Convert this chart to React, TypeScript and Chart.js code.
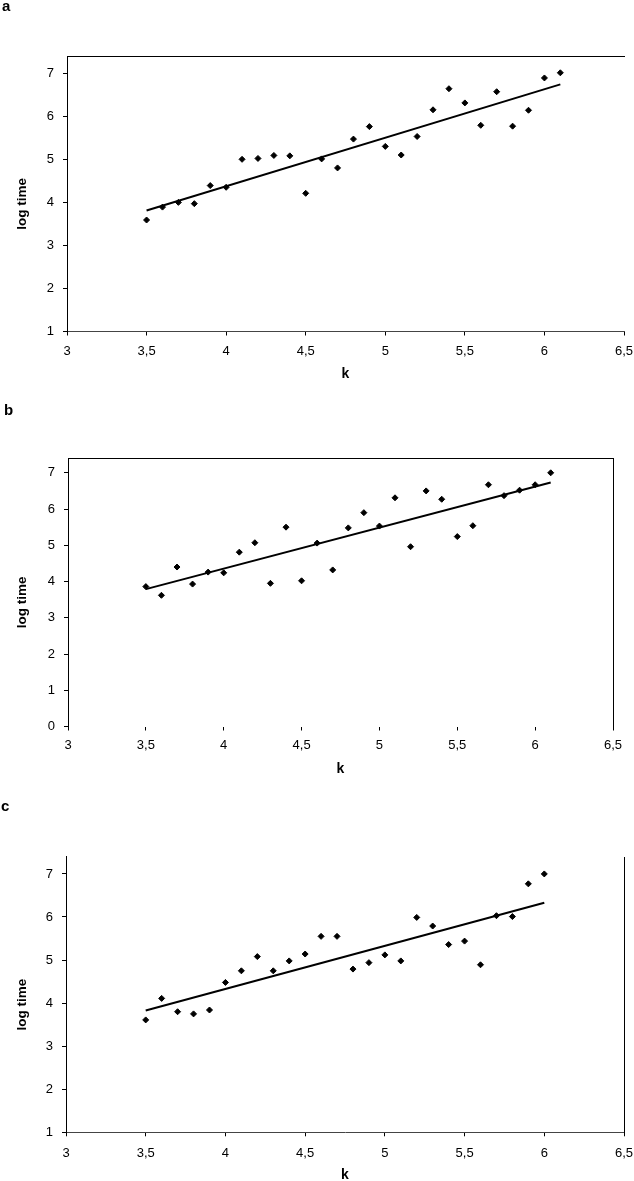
import React, { useEffect, useRef } from "react";
import { Chart, registerables } from "chart.js";

Chart.register(...registerables);

// ---------- data ----------
const kA = [3.5, 3.6, 3.7, 3.8, 3.9, 4.0, 4.1, 4.2, 4.3, 4.4, 4.5, 4.6, 4.7, 4.8, 4.9, 5.0, 5.1, 5.2, 5.3, 5.4, 5.5, 5.6, 5.7, 5.8, 5.9, 6.0, 6.1];
const logTimeA = [3.59, 3.89, 4.0, 3.97, 4.39, 4.35, 5.0, 5.02, 5.09, 5.08, 4.21, 5.01, 4.8, 5.47, 5.76, 5.3, 5.1, 5.53, 6.15, 6.64, 6.31, 5.79, 6.57, 5.77, 6.14, 6.89, 7.01];
const trendKA = [3.5, 6.1];
const trendTimeA = [3.81, 6.74];

const kB = [3.5, 3.6, 3.7, 3.8, 3.9, 4.0, 4.1, 4.2, 4.3, 4.4, 4.5, 4.6, 4.7, 4.8, 4.9, 5.0, 5.1, 5.2, 5.3, 5.4, 5.5, 5.6, 5.7, 5.8, 5.9, 6.0, 6.1];
const logTimeB = [3.86, 3.62, 4.4, 3.93, 4.26, 4.24, 4.81, 5.07, 3.95, 5.5, 4.02, 5.06, 4.32, 5.48, 5.9, 5.53, 6.31, 4.96, 6.5, 6.27, 5.24, 5.54, 6.67, 6.37, 6.52, 6.67, 7.0];
const trendKB = [3.5, 6.1];
const trendTimeB = [3.79, 6.73];

const kC = [3.5, 3.6, 3.7, 3.8, 3.9, 4.0, 4.1, 4.2, 4.3, 4.4, 4.5, 4.6, 4.7, 4.8, 4.9, 5.0, 5.1, 5.2, 5.3, 5.4, 5.5, 5.6, 5.7, 5.8, 5.9, 6.0];
const logTimeC = [3.61, 4.11, 3.8, 3.75, 3.84, 4.48, 4.75, 5.08, 4.75, 4.98, 5.14, 5.55, 5.55, 4.79, 4.94, 5.12, 4.98, 5.99, 5.79, 5.36, 5.44, 4.89, 6.03, 6.01, 6.77, 7.0];
const trendKC = [3.5, 6.0];
const trendTimeC = [3.83, 6.33];

const xTickValues = [3, 3.5, 4, 4.5, 5, 5.5, 6, 6.5];
const yTicksAC = [1, 2, 3, 4, 5, 6, 7];
const yTicksB = [0, 1, 2, 3, 4, 5, 6, 7];

const panelLetters = ["a", "b", "c"];
const xTitle = "k";
const yTitle = "log time";

// ---------- layout / style ----------
const FONT = '"Liberation Sans", Arial, Helvetica, sans-serif';
const CANVAS_W = 680;

type Panel = {
  letter: string;
  top: number;
  height: number;
  area: { left: number; top: number; right: number; bottom: number };
  yMin: number;
  yMax: number;
  yTicks: number[];
  k: number[];
  t: number[];
  tk: number[];
  tt: number[];
  frameTop: boolean;
  frameRight: boolean;
  xLine: boolean;
  xPad: number;
  letterX: number;
  letterY: number;
};

const panels: Panel[] = [
  {
    letter: panelLetters[0], top: 0, height: 400,
    area: { left: 67, top: 56, right: 624, bottom: 331.5 },
    yMin: 1, yMax: 7.4, yTicks: yTicksAC,
    k: kA, t: logTimeA, tk: trendKA, tt: trendTimeA,
    frameTop: true, frameRight: false, xLine: true, xPad: 8,
    letterX: 2, letterY: 11,
  },
  {
    letter: panelLetters[1], top: 390, height: 400,
    area: { left: 68, top: 68.3, right: 613, bottom: 336.5 },
    yMin: 0, yMax: 7.4, yTicks: yTicksB,
    k: kB, t: logTimeB, tk: trendKB, tt: trendTimeB,
    frameTop: true, frameRight: true, xLine: false, xPad: 7,
    letterX: 4, letterY: 25,
  },
  {
    letter: panelLetters[2], top: 790, height: 391,
    area: { left: 66, top: 66.7, right: 624, bottom: 342.3 },
    yMin: 1, yMax: 7.4, yTicks: yTicksAC,
    k: kC, t: logTimeC, tk: trendKC, tt: trendTimeC,
    frameTop: false, frameRight: true, xLine: true, xPad: 9,
    letterX: 1, letterY: 21,
  },
];

const framePlugin = {
  id: "frame",
  afterDraw(chart: any, _args: any, opts: any) {
    const { ctx, chartArea: a } = chart;
    ctx.save();
    ctx.strokeStyle = "#000";
    ctx.lineWidth = 1;
    if (opts.top) {
      const y = Math.round(a.top) + 0.5;
      ctx.beginPath();
      ctx.moveTo(Math.round(a.left), y);
      ctx.lineTo(Math.round(a.right) + 1, y);
      ctx.stroke();
    }
    if (opts.right) {
      const x = Math.round(a.right) + 0.5;
      ctx.beginPath();
      ctx.moveTo(x, Math.round(a.top));
      ctx.lineTo(x, Math.round(a.bottom) + 1);
      ctx.stroke();
    }
    ctx.fillStyle = "#000";
    // y title
    ctx.font = `bold 13.5px ${FONT}`;
    ctx.textAlign = "center";
    ctx.textBaseline = "middle";
    ctx.save();
    ctx.translate(22.5, (a.top + a.bottom) / 2 + 10);
    ctx.rotate(-Math.PI / 2);
    ctx.fillText(opts.yTitle, 0, 0);
    ctx.restore();
    // x title
    ctx.font = `bold 14px ${FONT}`;
    ctx.fillText(opts.xTitle, (a.left + a.right) / 2, a.bottom + 43);
    // panel letter
    ctx.font = `bold 15px ${FONT}`;
    ctx.textAlign = "left";
    ctx.textBaseline = "alphabetic";
    ctx.fillText(opts.letter, opts.letterX, opts.letterY);
    ctx.restore();
  },
};

function makeChart(canvas: HTMLCanvasElement, p: Panel) {
  const X_H = 40;
  const points = p.k.map((k, i) => ({ x: k, y: p.t[i] }));
  const trend = p.tk.map((k, i) => ({ x: k, y: p.tt[i] }));
  return new Chart(canvas, {
    type: "scatter",
    data: {
      datasets: [
        {
          data: points,
          pointStyle: "rectRot",
          pointRadius: 3,
          pointBackgroundColor: "#000",
          pointBorderColor: "#000",
          pointBorderWidth: 1,
          showLine: false,
        },
        {
          data: trend,
          showLine: true,
          borderColor: "#000",
          borderWidth: 2,
          pointRadius: 0,
          fill: false,
        },
      ],
    },
    plugins: [framePlugin],
    options: {
      responsive: false,
      animation: false,
      devicePixelRatio: 1,
      events: [],
      layout: {
        padding: {
          left: 0,
          top: p.area.top,
          right: CANVAS_W - p.area.right,
          bottom: p.height - p.area.bottom - X_H,
        },
      },
      plugins: {
        legend: { display: false },
        tooltip: { enabled: false },
        frame: {
          top: p.frameTop,
          right: p.frameRight,
          letter: p.letter,
          letterX: p.letterX,
          letterY: p.letterY,
          xTitle,
          yTitle,
        },
      } as any,
      scales: {
        x: {
          type: "linear",
          position: "bottom",
          min: 3,
          max: 6.5,
          afterBuildTicks: (scale: any) => {
            scale.ticks = xTickValues.map((v) => ({ value: v }));
          },
          afterFit: (scale: any) => {
            scale.height = X_H;
          },
          grid: {
            display: true,
            drawOnChartArea: false,
            drawTicks: true,
            tickLength: 4,
            color: "#000",
          },
          border: { display: p.xLine, color: "#444", width: 1 },
          ticks: {
            padding: p.xPad,
            color: "#000",
            font: { family: FONT, size: 13 },
            maxRotation: 0,
            autoSkip: false,
            callback: (v: any) => String(v).replace(".", ","),
          },
        },
        y: {
          type: "linear",
          position: "left",
          min: p.yMin,
          max: p.yMax,
          afterBuildTicks: (scale: any) => {
            scale.ticks = p.yTicks.map((v) => ({ value: v }));
          },
          afterFit: (scale: any) => {
            scale.width = p.area.left;
          },
          grid: {
            display: true,
            drawOnChartArea: false,
            drawTicks: true,
            tickLength: 4,
            color: "#000",
          },
          border: { display: true, color: "#000", width: 1 },
          ticks: {
            padding: 9,
            color: "#000",
            font: { family: FONT, size: 13 },
            autoSkip: false,
            callback: (v: any) => String(v),
          },
        },
      },
    },
  } as any);
}

export default function App() {
  const refs = [
    useRef<HTMLCanvasElement>(null),
    useRef<HTMLCanvasElement>(null),
    useRef<HTMLCanvasElement>(null),
  ];

  useEffect(() => {
    const charts = panels.map((p, i) => makeChart(refs[i].current as HTMLCanvasElement, p));
    return () => charts.forEach((c) => c.destroy());
  }, []);

  return (
    <div
      style={{
        position: "absolute",
        left: 0,
        top: 0,
        width: 634,
        height: 1181,
        overflow: "hidden",
        background: "#fff",
      }}
    >
      {panels.map((p, i) => (
        <canvas
          key={p.letter}
          ref={refs[i]}
          width={CANVAS_W}
          height={p.height}
          style={{
            position: "absolute",
            left: 0,
            top: p.top,
            width: CANVAS_W,
            height: p.height,
            display: "block",
          }}
        />
      ))}
    </div>
  );
}
